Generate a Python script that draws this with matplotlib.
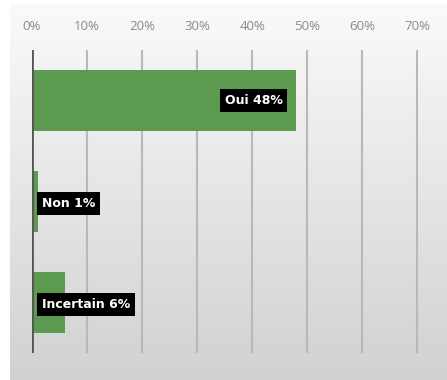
import matplotlib.pyplot as plt
import numpy as np

categories = ["Oui", "Non", "Incertain"]
values = [0.48, 0.01, 0.06]
ticks = [0, 0.1, 0.2, 0.3, 0.4, 0.5, 0.6, 0.7]
tick_labels = ["0%", "10%", "20%", "30%", "40%", "50%", "60%", "70%"]

W, H = 447, 380
fig = plt.figure(figsize=(W / 100, H / 100), dpi=100)
fig.patch.set_facecolor("white")

# soft grey backdrop behind the chart
bg = fig.add_axes([10 / W, 0, 1 - 10 / W, 1 - 4 / H])
grad = np.linspace(0.98, 0.82, 256).reshape(-1, 1)
bg.imshow(np.dstack([grad, grad, grad]), aspect="auto", extent=[0, 1, 0, 1])
bg.set_axis_off()
top = fig.add_axes([0, 1 - 4 / H, 1, 4 / H])
top.set_facecolor("#c8c8c8")
top.set_axis_off()
top.patch.set_visible(True)

ax = fig.add_axes([32 / W, 1 - 353 / H, 413 / W, 303 / H])
ax.patch.set_visible(False)
y = np.arange(len(categories))
ax.barh(y, values, height=0.6, color="#5b9a4f", zorder=2)
ax.set_xlim(0, 0.75)
ax.set_ylim(2.5, -0.5)

for t in ticks[1:]:
    ax.axvline(t, color="#b8b8b8", lw=1.5, zorder=1)
ax.axvline(0, color="#555555", lw=2, zorder=3)

ax.xaxis.tick_top()
ax.set_xticks(ticks)
ax.set_xticklabels(tick_labels, color="#8a8a8a", fontsize=9.5, family="Open Sans")
ax.tick_params(axis="x", length=0, pad=12)
ax.set_yticks([])
for s in ax.spines.values():
    s.set_visible(False)

box = dict(boxstyle="square,pad=0.4", fc="black", ec="none")
for i, (c, v) in enumerate(zip(categories, values)):
    label = f"{c} {round(v * 100)}%"
    if v > 0.2:
        ax.annotate(label, (v, i), xytext=(-10, 0), textcoords="offset points",
                    ha="right", va="center", color="white", fontsize=9,
                    fontweight="bold", bbox=box, zorder=4)
    else:
        ax.annotate(label, (0, i + 0.02), xytext=(7, 0), textcoords="offset points",
                    ha="left", va="center", color="white", fontsize=9,
                    fontweight="bold", bbox=box, zorder=4)

fig.savefig("out.png", dpi=100)
